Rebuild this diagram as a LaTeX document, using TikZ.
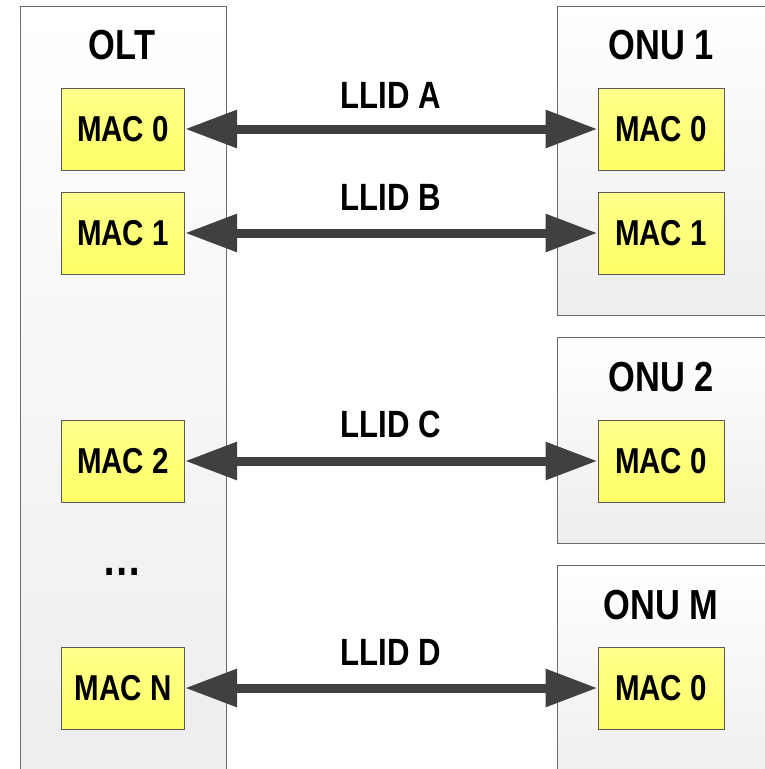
\documentclass[tikz,border=0pt]{standalone}
\usepackage{fontspec}
\setmainfont{Liberation Sans}[FakeStretch=0.82]
\usetikzlibrary{arrows.meta}

\begin{document}
\begin{tikzpicture}[x=1pt,y=-1pt,
      unitbox/.style={rectangle, draw=gray!85!black, line width=1pt,
        top color=white, bottom color=gray!14, inner sep=0pt},
      macbox/.style={rectangle, draw=gray!70!black, line width=1pt,
        top color=yellow!45, bottom color=yellow!60, minimum width=123pt,
        minimum height=82pt, inner sep=0pt, font=\fontsize{36}{38}\selectfont\bfseries},
      title/.style={font=\fontsize{42}{44}\selectfont\bfseries, inner sep=0pt},
      llid/.style={font=\fontsize{38}{40}\selectfont\bfseries, inner sep=0pt},
      link/.style={line width=9pt, draw=black!75,
        {Triangle[length=52pt,width=36pt]}-{Triangle[length=52pt,width=36pt]}}]

    \useasboundingbox (0,0) rectangle (765,769);

    % OLT side
    \node[unitbox, minimum width=206pt, minimum height=780pt] (olt) at (123,396) {};
    \node[title] (olttitle) at (122,45) {OLT};
    \node[macbox] (m0) at (123,129) {MAC 0};
    \node[macbox] (m1) at (123,233) {MAC 1};
    \node[macbox] (m2) at (123,461) {MAC 2};
    \node[title, font=\fontsize{48}{50}\selectfont\bfseries] (dots) at (122,572) {…};
    \node[macbox] (mn) at (123,688) {MAC N};

    % ONUs
    \node[unitbox, minimum width=230pt, minimum height=309pt] (onu1) at (672,160.5) {};
    \node[unitbox, minimum width=230pt, minimum height=206pt] (onu2) at (672,440) {};
    \node[unitbox, minimum width=230pt, minimum height=230pt] (onum) at (672,680) {};

    \node[title] (onu1title) at (661,45) {ONU 1};
    \node[title] (onu2title) at (661,377) {ONU 2};
    \node[title] (onumtitle) at (661,605) {ONU M};

    \node[macbox, minimum width=126pt] (u10) at (661,129) {MAC 0};
    \node[macbox, minimum width=126pt] (u11) at (661,233) {MAC 1};
    \node[macbox, minimum width=126pt] (u20) at (661,461) {MAC 0};
    \node[macbox, minimum width=126pt] (um0) at (661,688) {MAC 0};

    % links
    \draw[link] (m0.east) -- (u10.west);
    \draw[link] (m1.east) -- (u11.west);
    \draw[link] (m2.east) -- (u20.west);
    \draw[link] (mn.east) -- (um0.west);

    \node[llid] (la) at (391,95) {LLID A};
    \node[llid] (lb) at (391,197) {LLID B};
    \node[llid] (lc) at (391,424) {LLID C};
    \node[llid] (ld) at (391,652) {LLID D};

  \end{tikzpicture}
\end{document}
